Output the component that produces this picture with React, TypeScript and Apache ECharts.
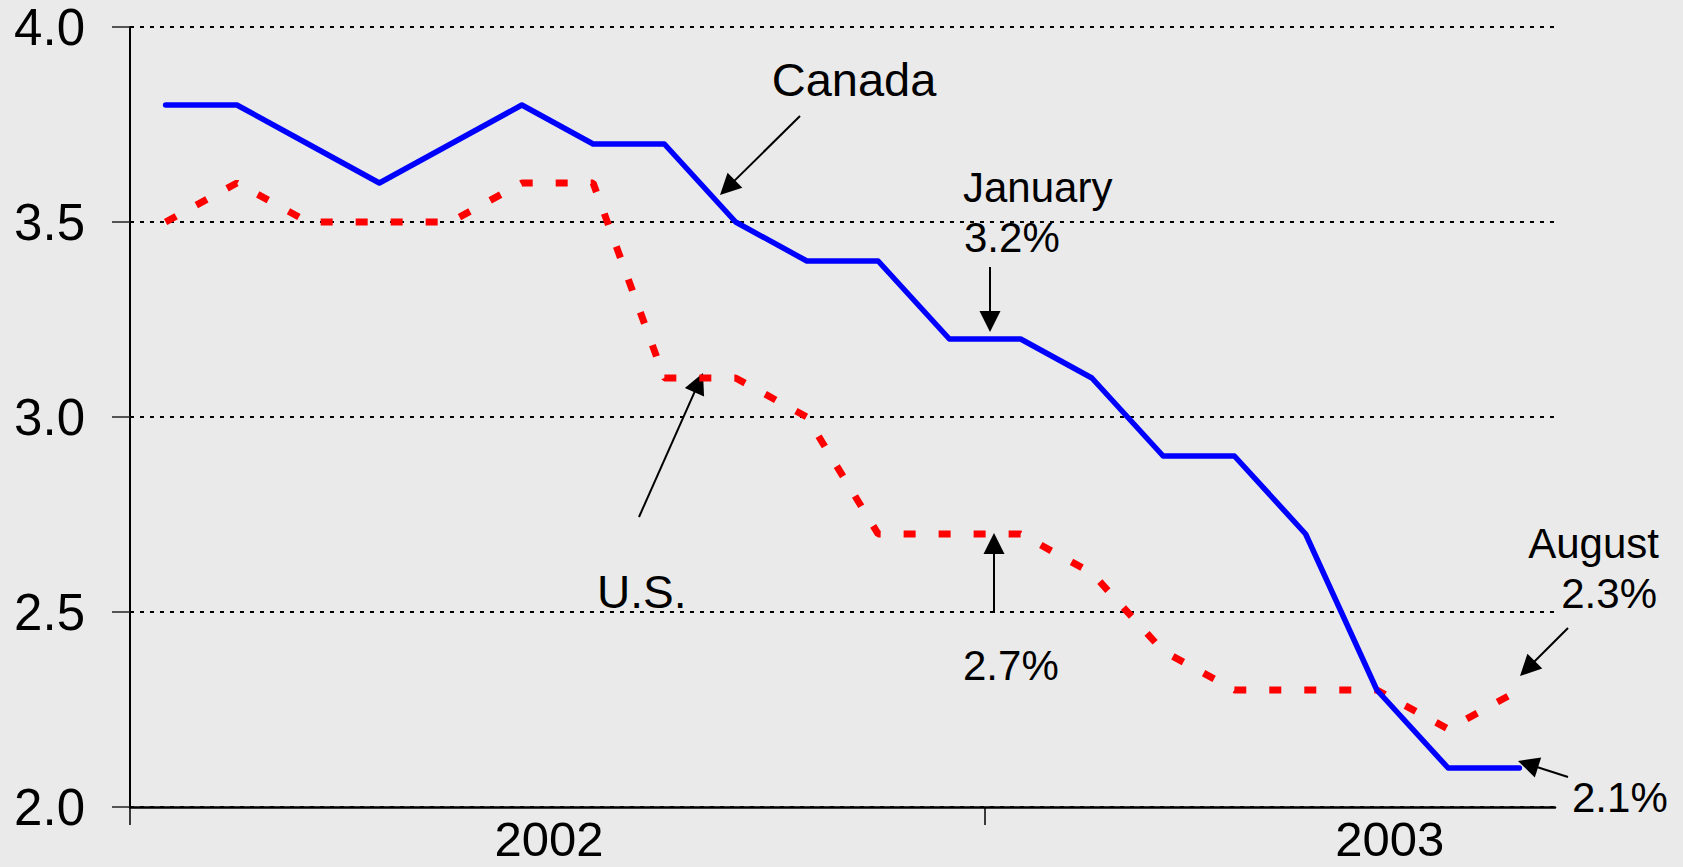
import React, { useEffect, useRef } from "react";
import * as echarts from "echarts";

const months = [
  "Jan 2002", "Feb 2002", "Mar 2002", "Apr 2002", "May 2002", "Jun 2002",
  "Jul 2002", "Aug 2002", "Sep 2002", "Oct 2002", "Nov 2002", "Dec 2002",
  "Jan 2003", "Feb 2003", "Mar 2003", "Apr 2003", "May 2003", "Jun 2003",
  "Jul 2003", "Aug 2003",
];
const canada = [3.8, 3.8, 3.7, 3.6, 3.7, 3.8, 3.7, 3.7, 3.5, 3.4, 3.4, 3.2, 3.2, 3.1, 2.9, 2.9, 2.7, 2.3, 2.1, 2.1];
const us = [3.5, 3.6, 3.5, 3.5, 3.5, 3.6, 3.6, 3.1, 3.1, 3.0, 2.7, 2.7, 2.7, 2.6, 2.4, 2.3, 2.3, 2.3, 2.2, 2.3];
const yearLabels = ["2002", "2003"];
const yearLabelPos = [5.88, 17.68];
const yearTickPos = [0, 12];

const FONT = "'Liberation Sans', Arial, Helvetica, sans-serif";
const BG = "#EAEAEA";

function arrow(x1: number, y1: number, x2: number, y2: number) {
  const len = 21;
  const half = 10.5;
  const dx = x2 - x1;
  const dy = y2 - y1;
  const d = Math.sqrt(dx * dx + dy * dy);
  const ux = dx / d;
  const uy = dy / d;
  const bx = x2 - ux * len;
  const by = y2 - uy * len;
  const px = -uy;
  const py = ux;
  return [
    {
      type: "line",
      shape: { x1, y1, x2: bx + ux * 2, y2: by + uy * 2 },
      style: { stroke: "#000", lineWidth: 2 },
    },
    {
      type: "polygon",
      shape: {
        points: [
          [x2, y2],
          [bx + px * half, by + py * half],
          [bx - px * half, by - py * half],
        ],
      },
      style: { fill: "#000" },
    },
  ];
}

function label(text: string, x: number, baseline: number, size: number, align: string) {
  return {
    type: "text",
    x,
    y: baseline - size * 0.35,
    style: {
      text,
      fill: "#000",
      font: `${size}px ${FONT}`,
      align,
      verticalAlign: "middle",
    },
  };
}

export default function App() {
  const ref = useRef<HTMLDivElement>(null);
  useEffect(() => {
    document.body.style.margin = "0";
    document.body.style.background = BG;
    if (!ref.current) return;
    const chart = echarts.init(ref.current, null, { renderer: "svg" });
    const option: any = {
      animation: false,
      backgroundColor: BG,
      grid: { left: 130, right: 128, top: 27, bottom: 60, containLabel: false },
      xAxis: [
        {
          type: "category",
          data: months,
          boundaryGap: true,
          axisLine: { show: true, lineStyle: { color: "#000", width: 2.5 } },
          axisTick: { show: false },
          axisLabel: { show: false },
          splitLine: { show: false },
        },
        {
          type: "value",
          min: 0,
          max: 20,
          position: "bottom",
          axisLine: { show: false },
          axisTick: {
            show: true,
            customValues: yearTickPos,
            length: 18,
            lineStyle: { color: "#000", width: 1.5 },
          },
          axisLabel: {
            show: true,
            customValues: yearLabelPos,
            margin: 12,
            fontSize: 49,
            lineHeight: 40,
            fontFamily: FONT,
            color: "#000",
            formatter: (v: number) => {
              let best = 0;
              for (let i = 1; i < yearLabelPos.length; i++) {
                if (Math.abs(yearLabelPos[i] - v) < Math.abs(yearLabelPos[best] - v)) best = i;
              }
              return yearLabels[best];
            },
          },
          splitLine: { show: false },
        },
      ],
      yAxis: {
        type: "value",
        min: 2,
        max: 4,
        interval: 0.5,
        axisLine: { show: true, lineStyle: { color: "#000", width: 2 } },
        axisTick: { show: true, length: 18, lineStyle: { color: "#222", width: 1.5 } },
        axisLabel: {
          margin: 45,
          fontSize: 51,
          fontFamily: FONT,
          color: "#000",
          formatter: (v: number) => v.toFixed(1),
        },
        splitLine: { show: true, lineStyle: { color: "#000", width: 2, type: [4, 6] } },
      },
      series: [
        {
          name: "U.S.",
          type: "line",
          xAxisIndex: 0,
          data: us,
          symbol: "none",
          lineStyle: { color: "#FF0000", width: 7, type: [12, 23], cap: "butt" },
          z: 3,
        },
        {
          name: "Canada",
          type: "line",
          xAxisIndex: 0,
          data: canada,
          symbol: "none",
          lineStyle: { color: "#0000FF", width: 5.5, cap: "round", join: "round" },
          z: 4,
        },
      ],
      graphic: [
        label("Canada", 854, 96, 47, "center"),
        label("January", 963, 202, 42, "left"),
        label("3.2%", 964, 252, 42, "left"),
        label("U.S.", 597, 608, 46, "left"),
        label("2.7%", 963, 680, 42, "left"),
        label("August", 1659, 558, 42, "right"),
        label("2.3%", 1657, 608, 42, "right"),
        label("2.1%", 1572, 812, 42, "left"),
        ...arrow(800, 116, 720, 195),
        ...arrow(990, 267, 990, 332),
        ...arrow(639, 517, 703, 373),
        ...arrow(994, 613, 994, 533),
        ...arrow(1568, 628, 1520, 676),
        ...arrow(1568, 777, 1518, 761),
      ],
    };
    chart.setOption(option);
    return () => chart.dispose();
  }, []);
  return <div ref={ref} style={{ width: 1683, height: 867 }} />;
}
